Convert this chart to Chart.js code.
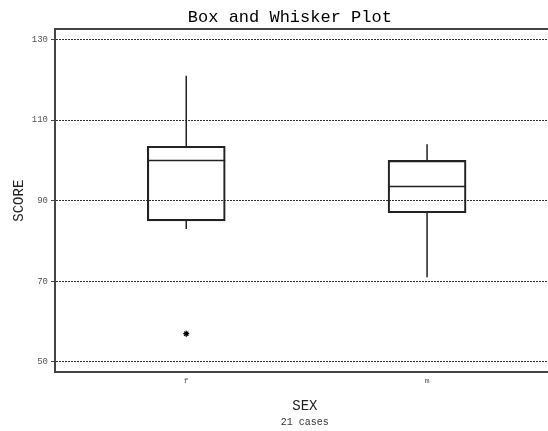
<!DOCTYPE html>
<html lang="en">
<head>
<meta charset="UTF-8">
<title>Box and Whisker Plot</title>
<script src="https://cdn.jsdelivr.net/npm/chart.js"></script>
<style>
  html, body { margin: 0; padding: 0; background: #fff; overflow: hidden; }
  #wrap { width: 560px; height: 431px; }
</style>
</head>
<body>
<div id="wrap"><canvas id="boxChart" width="560" height="431"></canvas></div>
<script>
// box plot summary per group (SCORE by SEX)
const categories = ['f', 'm'];
const lowWhisker = [83, 71];
const q1 = [85, 87];
const median = [100, 93.5];
const q3 = [103.5, 100];
const highWhisker = [121, 104];
const outlierGroup = ['f'];
const outlierValue = [57];
const yTicks = [50, 70, 90, 110, 130];

const mono = 'Liberation Mono, Courier New, monospace';

// whiskers + median lines, drawn through the chart's scales
const whiskerPlugin = {
  id: 'whiskers',
  afterDatasetsDraw(chart) {
    const ctx = chart.ctx;
    const xs = chart.scales.x, ys = chart.scales.y;
    const boxes = chart.getDatasetMeta(0).data;
    ctx.save();
    ctx.strokeStyle = '#222';
    ctx.lineWidth = 1.5;
    categories.forEach((c, i) => {
      const x = xs.getPixelForValue(i + 1);
      const half = boxes[i].width / 2;
      const my = ys.getPixelForValue(median[i]);
      ctx.beginPath();
      ctx.moveTo(x, ys.getPixelForValue(q3[i]));
      ctx.lineTo(x, ys.getPixelForValue(highWhisker[i]));
      ctx.moveTo(x, ys.getPixelForValue(q1[i]));
      ctx.lineTo(x, ys.getPixelForValue(lowWhisker[i]));
      ctx.moveTo(x - half, my);
      ctx.lineTo(x + half, my);
      ctx.stroke();
    });
    ctx.restore();
  }
};

// title in the original sits a little left of the plot centre
const titleNudge = {
  id: 'titleNudge',
  afterLayout(chart) {
    chart.titleBlock.left -= 15;
    chart.titleBlock.right -= 15;
  }
};

new Chart(document.getElementById('boxChart'), {
  type: 'bar',
  data: {
    datasets: [
      {
        data: categories.map((c, i) => ({ x: i + 1, y: [q1[i], q3[i]] })),
        backgroundColor: 'rgba(0,0,0,0)',
        borderColor: '#222',
        borderWidth: 1.5,
        borderSkipped: false,
        barThickness: 78
      },
      {
        type: 'scatter',
        data: outlierGroup.map((g, i) => ({ x: categories.indexOf(g) + 1, y: outlierValue[i] })),
        pointStyle: 'star',
        radius: 3,
        borderWidth: 1.3,
        borderColor: '#000'
      }
    ]
  },
  options: {
    responsive: false,
    animation: false,
    layout: { padding: 0 },
    plugins: {
      legend: { display: false },
      tooltip: { enabled: false },
      title: {
        display: true,
        fullSize: false,
        text: 'Box and Whisker Plot',
        color: '#000',
        font: { family: mono, size: 17, weight: 'normal' },
        padding: { top: 7, bottom: 2 }
      },
      subtitle: {
        display: true,
        position: 'bottom',
        fullSize: false,
        text: '21 cases',
        color: '#333',
        font: { family: mono, size: 10, weight: 'normal' },
        padding: { top: 1.6, bottom: 2.3 }
      }
    },
    scales: {
      x: {
        type: 'linear',
        offset: false,
        min: 0.455,
        max: 2.53,
        grid: { display: false, drawTicks: false },
        border: { display: true, color: '#444', width: 2 },
        afterBuildTicks: s => { s.ticks = categories.map((c, i) => ({ value: i + 1 })); },
        ticks: {
          font: { family: mono, size: 8 },
          color: '#555',
          padding: 4,
          callback: v => categories[v - 1]
        },
        title: {
          display: true,
          text: 'SEX',
          color: '#222',
          font: { family: mono, size: 14 },
          padding: { top: 8.7, bottom: 0 }
        }
      },
      xTop: {
        type: 'linear',
        position: 'top',
        offset: false,
        min: 0.455,
        max: 2.53,
        grid: { display: false, drawTicks: false },
        ticks: { display: false },
        border: { display: true, color: '#444', width: 2 },
        afterFit: s => { s.height = 0; }
      },
      y: {
        min: 47.5,
        max: 132.5,
        afterBuildTicks: s => { s.ticks = yTicks.map(v => ({ value: v })); },
        afterFit: s => { s.width = 55; },
        grid: { color: '#333', lineWidth: 1, tickLength: 4, tickColor: '#444', tickWidth: 1 },
        border: { display: true, color: '#444', width: 2, dash: [2, 1] },
        ticks: {
          font: { family: mono, size: 9 },
          color: '#555',
          padding: 3
        },
        title: {
          display: true,
          text: 'SCORE',
          color: '#222',
          font: { family: mono, size: 14 },
          padding: { top: 11, bottom: 0 }
        }
      }
    }
  },
  plugins: [whiskerPlugin, titleNudge]
});
</script>
</body>
</html>
